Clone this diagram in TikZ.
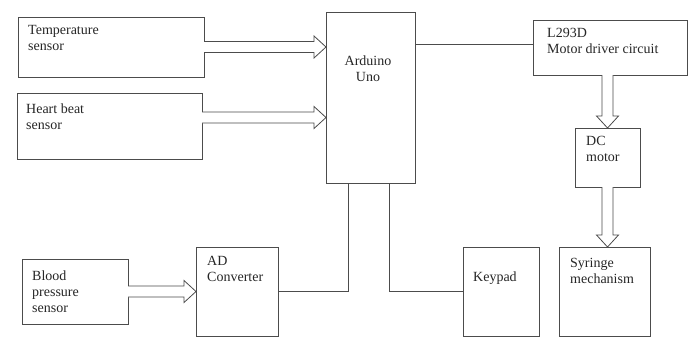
\documentclass[tikz,border=0pt]{standalone}
\usepackage{fontspec}
\setmainfont{Liberation Serif}
\usetikzlibrary{calc}
\tikzset{
  box/.style={draw=black!70, line width=0.8pt, inner sep=0pt, outer sep=0pt, anchor=north west},
  txt/.style={anchor=north west, inner sep=0pt, align=left, font=\fontsize{14}{16}\selectfont, text=black!85},
  blk/.style={draw=black!70, line width=0.8pt, fill=white},
  wire/.style={draw=black!70, line width=0.8pt}
}
\newcommand{\harrow}[3]{\draw[blk] let \p1=(#1.east), \p2=(#2.west) in
 (\x1,{\y1+(#3)+5.5pt}) -- ({\x2-12pt},{\y1+(#3)+5.5pt}) -- ({\x2-12pt},{\y1+(#3)+11pt}) -- (\x2,{\y1+(#3)}) -- ({\x2-12pt},{\y1+(#3)-11pt}) -- ({\x2-12pt},{\y1+(#3)-5.5pt}) -- (\x1,{\y1+(#3)-5.5pt});}
\newcommand{\varrow}[3]{\draw[blk] let \p1=(#1.south), \p2=(#2.north) in
 ({\x1+(#3)-5.5pt},\y1) -- ({\x1+(#3)-5.5pt},{\y2+12pt}) -- ({\x1+(#3)-11pt},{\y2+12pt}) -- ({\x1+(#3)},\y2) -- ({\x1+(#3)+11pt},{\y2+12pt}) -- ({\x1+(#3)+5.5pt},{\y2+12pt}) -- ({\x1+(#3)+5.5pt},\y1);}
\begin{document}
\begin{tikzpicture}[x=1pt,y=-1pt]
\useasboundingbox[fill=white] (0,0) rectangle (693,338);
% boxes
\node[box, minimum width=186pt, minimum height=60pt] (temp) at (18,17) {};
\node[box, minimum width=185pt, minimum height=66pt] (heart) at (17,93) {};
\node[box, minimum width=89pt, minimum height=171pt] (ard) at (326,12) {};
\node[box, minimum width=154pt, minimum height=55pt] (l293) at (533,20) {};
\node[box, minimum width=65pt, minimum height=59pt] (dc) at (575,128) {};
\node[box, minimum width=91pt, minimum height=89.5pt] (syr) at (559,247) {};
\node[box, minimum width=76pt, minimum height=89.5pt] (key) at (463,247) {};
\node[box, minimum width=82pt, minimum height=89.5pt] (ad) at (196,247) {};
\node[box, minimum width=106pt, minimum height=65pt] (bp) at (22,259) {};
% texts
\node[txt] (ttemp) at (28,25.5) {Temperature\\sensor};
\node[txt] (theart) at (26,103.5) {Heart beat\\sensor};
\node[txt, anchor=north, align=center] (tard) at (368,55.5) {Arduino\\Uno};
\node[txt] (tl293) at (547,28.5) {L293D\\Motor driver circuit};
\node[txt] (tdc) at (586,136.5) {DC\\motor};
\node[txt] (tsyr) at (570,258) {Syringe\\mechanism};
\node[txt] (tkey) at (473,271.5) {Keypad};
\node[txt] (tad) at (207,256.5) {AD\\Converter};
\node[txt] (tbp) at (32,270.5) {Blood\\pressure\\sensor};
% connectors
\harrow{temp}{ard}{0pt}
\harrow{heart}{ard}{8.5pt}
\harrow{bp}{ad}{0pt}
\varrow{l293}{dc}{-2.5pt}
\varrow{dc}{syr}{0pt}
\coordinate (c1) at ($(l293.west)+(0,-3.5)$);
\draw[wire] (ard.east |- c1) -- (c1);
\coordinate (k1) at ($(ard.south)+(18.5,0)$);
\draw[wire] (k1) |- (key.west);
\coordinate (a1) at ($(ard.south)+(-22.5,0)$);
\draw[wire] (ad.east) -| (a1);
\end{tikzpicture}
\end{document}
